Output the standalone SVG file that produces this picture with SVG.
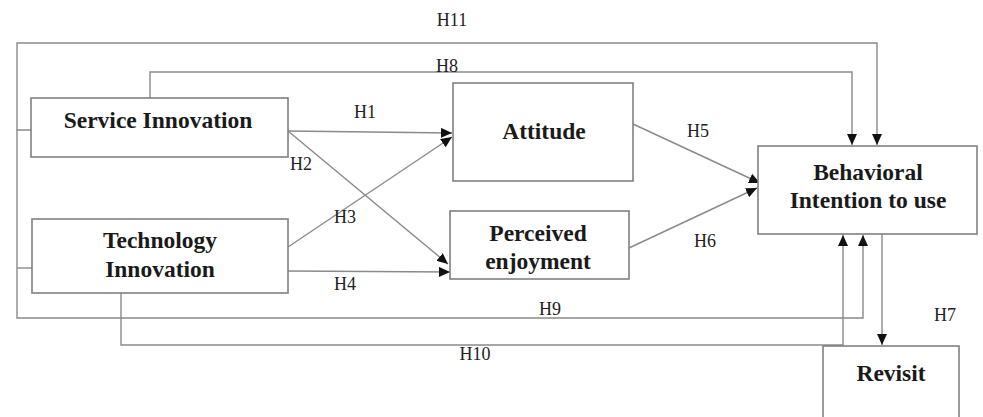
<svg xmlns="http://www.w3.org/2000/svg" width="983" height="417" viewBox="0 0 983 417">
<defs>
<style>
.box{fill:#fff;stroke:#808080;stroke-width:1.6}
.lbl{font-family:"Liberation Serif","Times New Roman",serif;font-weight:bold;font-size:23.5px;fill:#1a1a1a;text-anchor:middle}
.h{font-family:"Liberation Serif","Times New Roman",serif;font-size:18px;fill:#222;text-anchor:middle}
.c{fill:none;stroke:#8a8a8a;stroke-width:1.4}
</style>
<marker id="ah" markerUnits="userSpaceOnUse" markerWidth="12" markerHeight="10" refX="11" refY="5" orient="auto">
<path d="M0,0 L11,5 L0,10 z" fill="#111"/>
</marker>
</defs>
<rect width="983" height="417" fill="#fff"/>
<g id="connectors">
<path class="c" d="M31,130 H17 V318 H863 V235" marker-end="url(#ah)"/>
<path class="c" d="M17,130 V43 H877 V145" marker-end="url(#ah)"/>
<path class="c" d="M17,268 H32"/>
<path class="c" d="M150,98 V72 H852 V145" marker-end="url(#ah)"/>
<path class="c" d="M121,293 V345 H843 V235" marker-end="url(#ah)"/>
<path class="c" d="M882,234 V345" marker-end="url(#ah)"/>
<path class="c" d="M288,131 L452,133" marker-end="url(#ah)"/>
<path class="c" d="M288,131 L448,264" marker-end="url(#ah)"/>
<path class="c" d="M288,247 L452,137" marker-end="url(#ah)"/>
<path class="c" d="M288,271 L450,272" marker-end="url(#ah)"/>
<path class="c" d="M633,124 L760,183" marker-end="url(#ah)"/>
<path class="c" d="M629,248 L757,188" marker-end="url(#ah)"/>
<text class="h" x="452" y="26">H11</text>
<text class="h" x="447" y="72">H8</text>
<text class="h" x="365" y="118">H1</text>
<text class="h" x="301" y="170">H2</text>
<text class="h" x="345" y="223">H3</text>
<text class="h" x="345" y="290">H4</text>
<text class="h" x="698" y="137">H5</text>
<text class="h" x="705" y="247">H6</text>
<text class="h" x="550" y="315">H9</text>
<text class="h" x="475" y="360">H10</text>
<text class="h" x="945" y="321">H7</text>
</g>
<g id="service-innovation">
<rect class="box" x="31" y="98" width="257" height="59"/>
<text class="lbl" x="158" y="128">Service Innovation</text>
</g>
<g id="technology-innovation">
<rect class="box" x="32" y="219" width="256" height="74"/>
<text class="lbl" x="160" y="248">Technology</text>
<text class="lbl" x="160" y="277">Innovation</text>
</g>
<g id="attitude">
<rect class="box" x="453" y="83" width="180" height="98"/>
<text class="lbl" x="544" y="139">Attitude</text>
</g>
<g id="perceived-enjoyment">
<rect class="box" x="450" y="211" width="179" height="68"/>
<text class="lbl" x="538" y="241">Perceived</text>
<text class="lbl" x="538" y="269">enjoyment</text>
</g>
<g id="behavioral-intention">
<rect class="box" x="758" y="146" width="219" height="88"/>
<text class="lbl" x="868" y="180">Behavioral</text>
<text class="lbl" x="868" y="208">Intention to use</text>
</g>
<g id="revisit">
<rect class="box" x="823" y="346" width="136" height="80"/>
<text class="lbl" x="891" y="381">Revisit</text>
</g>
</svg>
